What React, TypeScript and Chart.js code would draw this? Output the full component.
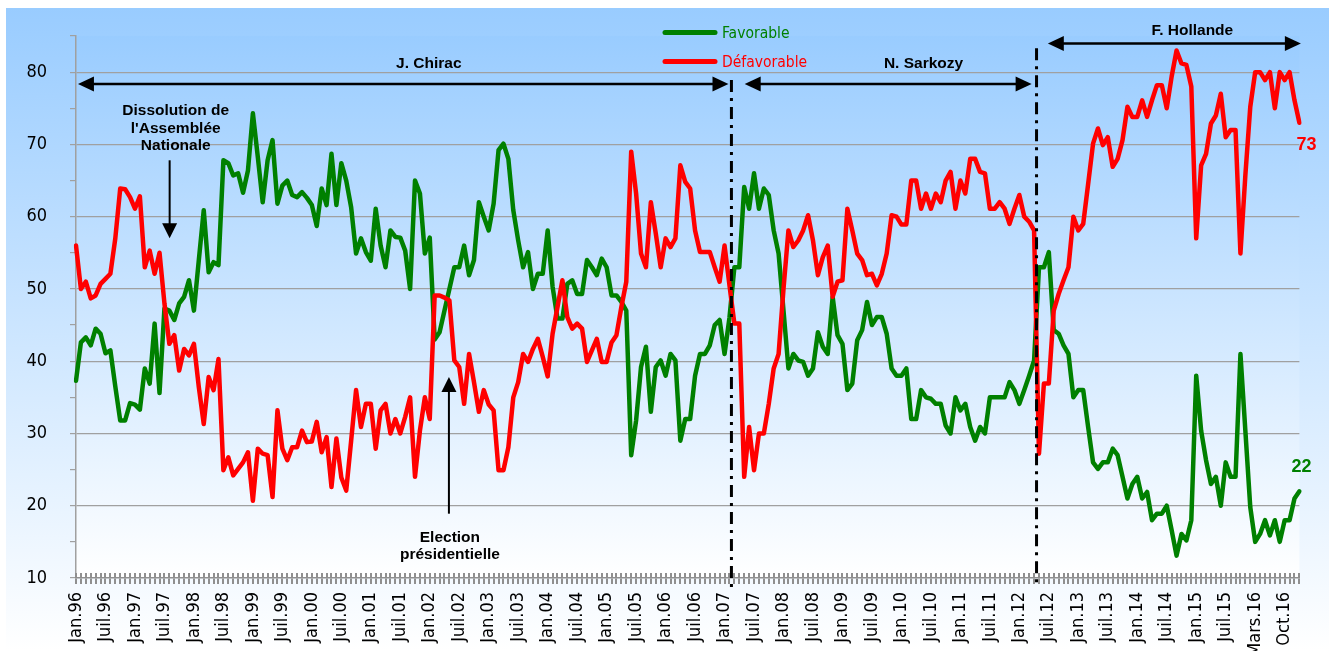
import React, { useEffect, useRef } from 'react';
import { Chart, registerables } from 'chart.js';

Chart.register(...registerables);

// ---------- DATA ----------
const TICK_LABELS: string[] = [
  'Jan.96', 'Juil.96', 'Jan.97', 'Juil.97', 'Jan.98', 'Juil.98', 'Jan.99', 'Juil.99',
  'Jan.00', 'Juil.00', 'Jan.01', 'Juil.01', 'Jan.02', 'Juil.02', 'Jan.03', 'Juil.03',
  'Jan.04', 'Juil.04', 'Jan.05', 'Juil.05', 'Jan.06', 'Juil.06', 'Jan.07', 'Juil.07',
  'Jan.08', 'Juil.08', 'Jan.09', 'Juil.09', 'Jan.10', 'Juil.10', 'Jan.11', 'Juil.11',
  'Jan.12', 'Juil.12', 'Jan.13', 'Juil.13', 'Jan.14', 'Juil.14', 'Jan.15', 'Juil.15',
  'Mars.16', 'Oct.16',
];

const FAVORABLE: number[] = [
  37.3, 42.6, 43.3, 42.2, 44.5, 43.8, 41.1, 41.5, 36.5, 31.8, 31.8, 34.2,
  34, 33.3, 39, 36.9, 45.2, 35.6, 47.3, 47, 45.7, 48, 48.9, 51.2,
  47, 54, 60.9, 52.3, 53.7, 53.3, 67.8, 67.4, 65.7, 66, 63.3, 66.4,
  74.3, 68.3, 62, 67.8, 70.6, 61.8, 64.3, 65, 63, 62.7, 63.4, 62.6,
  61.6, 58.7, 63.9, 61.6, 68.7, 61.6, 67.4, 65, 61.3, 54.9, 57, 55.1,
  53.9, 61.1, 56, 53, 58.1, 57.2, 57.1, 55.3, 50, 65, 63.2, 54.9,
  57.1, 43, 44, 47, 50, 53, 53, 56, 51.9, 54, 62, 60,
  58.1, 61.8, 69.2, 70.1, 68, 60.9, 56.7, 53, 55.1, 50, 52.1, 52.1,
  58.1, 50.3, 45.9, 45.9, 50.7, 51.2, 49.3, 49.3, 54, 53, 51.9, 54.2,
  53, 49.1, 49.1, 48.2, 47, 27, 31.8, 39.2, 42, 33, 39.2, 40.1,
  38, 41, 40.1, 29, 32, 32, 38, 41, 41, 42.2, 45, 45.7,
  41, 46, 53, 53, 64.1, 61.1, 66, 61.1, 63.9, 63, 58.1, 54.9,
  47, 39, 41, 40.1, 39.9, 38, 39, 44, 42, 41, 48.9, 43.6,
  42.4, 36, 36.9, 42.9, 44.3, 48.2, 45, 46.1, 46.1, 43.8, 39, 38,
  38, 39, 32, 32, 36, 35, 34.8, 34.1, 34.1, 31.1, 30, 35,
  33.2, 34.1, 30.9, 29, 30.9, 30, 35, 35, 35, 35, 37.1, 36,
  34.1, 36, 38, 40.1, 53, 53, 55.1, 44.3, 43.8, 42.2, 41, 35,
  36, 36, 30.9, 26, 25.1, 26, 26, 27.9, 27, 24, 21, 23,
  24, 21, 21.9, 18, 18.9, 18.9, 20, 16.6, 13.1, 16.1, 15.2, 18,
  38, 30.4, 26.3, 23, 24, 20, 26, 24, 24, 41, 30.4, 19.8,
  15, 16.1, 18, 15.9, 18, 15, 18, 18, 21, 22,
];

const DEFAVORABLE: number[] = [
  56, 50, 51, 48.7, 49.1, 50.7, 51.4, 52.1, 57, 63.9, 63.8, 62.7,
  61.1, 62.8, 53, 55.3, 52.1, 55, 48, 42.4, 43.6, 38.7, 41.7, 40.8,
  42.4, 36.4, 31.3, 37.8, 36, 40.3, 24.9, 26.7, 24.2, 25.1, 26, 27.4,
  20.7, 27.9, 27.2, 27, 21.2, 33.2, 27.9, 26.3, 28.1, 28.1, 30.4, 28.8,
  28.9, 31.6, 27.4, 29.5, 22.6, 29.3, 23.9, 22.1, 29, 36, 30.9, 34.1,
  34.1, 27.9, 33.2, 34.1, 30, 32, 30, 32.3, 35, 24, 30.4, 35,
  32, 49.1, 49.1, 48.8, 48.4, 40.1, 39.2, 34.1, 41, 37.1, 33, 36,
  34, 33.2, 24.9, 24.9, 28.1, 35, 37.1, 41, 39.9, 41.7, 43.1, 40.6,
  37.9, 43.8, 47.5, 51.2, 46.1, 44.5, 45.2, 44.5, 39.9, 41.5, 43.1, 39.9,
  39.9, 42.6, 43.6, 47.5, 51, 69, 63.2, 54.9, 53, 62, 57.7, 53,
  57, 55.8, 57, 67.1, 64.8, 63.9, 58.1, 55.1, 55.1, 55.1, 53, 51,
  56, 50.5, 45.2, 45.2, 24, 30.9, 24.9, 30, 30, 34.1, 39, 41,
  50, 58.1, 55.8, 56.7, 58.1, 60.2, 56.7, 51.9, 54.4, 56, 48.9, 51,
  51.2, 61.1, 58.1, 54.9, 54, 51.9, 52.1, 50.5, 52.1, 54.9, 60.2, 60,
  58.9, 58.9, 65, 65, 61.1, 63.2, 61.1, 63.2, 62, 65, 66.2, 61.1,
  65, 63.2, 68, 68, 66.2, 66, 61.1, 61.1, 62, 61.1, 59, 61.1,
  63, 60, 59.3, 58.1, 27.2, 36.9, 36.9, 47, 49.3, 51.2, 53, 60,
  58.1, 59, 64.5, 70.1, 72.2, 69.9, 71, 66.9, 68, 70.6, 75.2, 73.8,
  73.8, 76.1, 73.8, 76.1, 78.2, 78.2, 75, 79.4, 83, 81.2, 81, 78,
  57, 67.1, 68.7, 72.9, 74, 77, 71, 72, 72, 54.9, 65.7, 75.2,
  80, 80, 78.9, 80, 75, 80, 78.9, 80, 76.1, 73,
];

const TICK_EVERY = 6;
const CATEGORIES: string[] = FAVORABLE.map((_, i) =>
  i % TICK_EVERY === 0 && TICK_LABELS[i / TICK_EVERY] ? TICK_LABELS[i / TICK_EVERY] : ''
);

// Presidential periods (x in category index units, y in value units)
const PERIODS = [
  { name: 'J. Chirac', from: 0.4, to: 132.8, y: 78.35, labelX: 71.8, labelY: 81.1 },
  { name: 'N. Sarkozy', from: 136.1, to: 194.5, y: 78.35, labelX: 172.5, labelY: 81.1 },
  { name: 'F. Hollande', from: 197.8, to: 249.3, y: 83.95, labelX: 227.2, labelY: 85.7 },
];
const SEPARATORS = [
  { x: 133.4, top: 78.9 },
  { x: 195.5, top: 83.3 },
];
const EVENTS = [
  { lines: ['Dissolution de', "l'Assemblée", 'Nationale'], textX: 20.3, textY: [74.7, 72.2, 69.8], arrowX: 19.06, from: 67.8, to: 57.0 },
  { lines: ['Election', 'présidentielle'], textX: 76.1, textY: [15.6, 13.2], arrowX: 75.9, from: 18.9, to: 37.8 },
];

const GREEN = '#008000';
const RED = '#FF0000';
const GRID = '#a0a0a0';
const AXIS_FONT = "'DejaVu Sans Condensed', 'DejaVu Sans', sans-serif";
const BOLD_FONT = "'Liberation Sans', Arial, sans-serif";

function arrowHead(ctx: CanvasRenderingContext2D, tx: number, ty: number, dx: number, dy: number, len: number, half: number) {
  const bx = tx - dx * len;
  const by = ty - dy * len;
  const px = -dy;
  const py = dx;
  ctx.beginPath();
  ctx.moveTo(tx, ty);
  ctx.lineTo(bx + px * half, by + py * half);
  ctx.lineTo(bx - px * half, by - py * half);
  ctx.closePath();
  ctx.fill();
}

const decorPlugin = {
  id: 'decor',
  beforeDraw(chart: any) {
    const { ctx, width, height, chartArea: a } = chart;
    ctx.save();
    let g = ctx.createLinearGradient(0, 0, 0, height);
    g.addColorStop(0, '#99CCFF');
    g.addColorStop(1, '#FFFFFF');
    ctx.fillStyle = g;
    ctx.fillRect(0, 0, width, height);
    g = ctx.createLinearGradient(0, a.top, 0, a.bottom);
    g.addColorStop(0, '#99CCFF');
    g.addColorStop(1, '#FFFFFF');
    ctx.fillStyle = g;
    ctx.fillRect(a.left, a.top, a.right - a.left, a.bottom - a.top);
    ctx.restore();
  },
  afterDraw(chart: any) {
    const { ctx, chartArea: a } = chart;
    const xs = chart.scales.x;
    const ys = chart.scales.y;
    const X = (i: number) => xs.getPixelForValue(i);
    const Y = (v: number) => ys.getPixelForValue(v);
    ctx.save();

    // upper half of the category hatch
    ctx.strokeStyle = '#8f8f8f';
    ctx.lineWidth = 2;
    ctx.beginPath();
    for (let i = 0; i < CATEGORIES.length; i++) {
      const x = Math.round(X(i));
      ctx.moveTo(x, a.bottom - 5);
      ctx.lineTo(x, a.bottom);
    }
    ctx.stroke();

    // separators (dash-dot)
    ctx.strokeStyle = '#000';
    ctx.lineWidth = 3;
    ctx.setLineDash([12, 6, 3, 6]);
    for (const s of SEPARATORS) {
      const x = X(s.x);
      ctx.beginPath();
      ctx.moveTo(x, Y(s.top));
      ctx.lineTo(x, a.bottom + 9);
      ctx.stroke();
    }
    ctx.setLineDash([]);

    // period arrows
    ctx.fillStyle = '#000';
    ctx.lineWidth = 2.5;
    for (const p of PERIODS) {
      const x1 = X(p.from);
      const x2 = X(p.to);
      const y = Y(p.y);
      ctx.beginPath();
      ctx.moveTo(x1 + 10, y);
      ctx.lineTo(x2 - 10, y);
      ctx.stroke();
      arrowHead(ctx, x1, y, -1, 0, 16, 7.5);
      arrowHead(ctx, x2, y, 1, 0, 16, 7.5);
      ctx.font = `bold 15.5px ${BOLD_FONT}`;
      ctx.textAlign = 'center';
      ctx.textBaseline = 'middle';
      ctx.fillText(p.name, X(p.labelX), Y(p.labelY));
    }

    // event arrows
    ctx.lineWidth = 2;
    for (const e of EVENTS) {
      const x = X(e.arrowX);
      const y1 = Y(e.from);
      const y2 = Y(e.to);
      const dir = y2 > y1 ? 1 : -1;
      ctx.beginPath();
      ctx.moveTo(x, y1);
      ctx.lineTo(x, y2 - dir * 10);
      ctx.stroke();
      arrowHead(ctx, x, y2, 0, dir, 15, 7.5);
      ctx.font = `bold 15.5px ${BOLD_FONT}`;
      ctx.textAlign = 'center';
      ctx.textBaseline = 'middle';
      e.lines.forEach((t, k) => ctx.fillText(t, X(e.textX), Y(e.textY[k])));
    }

    // legend
    const legend = [
      { text: 'Favorable', color: GREEN, y: 24.5 },
      { text: 'Défavorable', color: RED, y: 53.5 },
    ];
    ctx.lineCap = 'round';
    ctx.lineWidth = 5;
    ctx.font = `15.5px ${AXIS_FONT}`;
    ctx.textAlign = 'left';
    ctx.textBaseline = 'middle';
    for (const l of legend) {
      ctx.strokeStyle = l.color;
      ctx.beginPath();
      ctx.moveTo(659, l.y);
      ctx.lineTo(709, l.y);
      ctx.stroke();
      ctx.fillStyle = l.color;
      ctx.fillText(l.text, 716, l.y + 1);
    }

    // end labels
    const last = CATEGORIES.length - 1;
    ctx.font = `bold 18px ${BOLD_FONT}`;
    ctx.textAlign = 'center';
    ctx.fillStyle = RED;
    ctx.fillText(String(Math.round(DEFAVORABLE[last])), X(last) + 7, Y(DEFAVORABLE[last]) + 22);
    ctx.fillStyle = GREEN;
    ctx.fillText(String(Math.round(FAVORABLE[last])), X(last) + 2, Y(FAVORABLE[last]) - 24);

    ctx.restore();
  },
};

export default function App() {
  const ref = useRef<HTMLCanvasElement | null>(null);

  useEffect(() => {
    if (!ref.current) return;
    const chart = new Chart(ref.current, {
      type: 'line',
      data: {
        labels: CATEGORIES,
        datasets: [
          {
            label: 'Favorable',
            data: FAVORABLE,
            borderColor: GREEN,
            backgroundColor: GREEN,
            borderWidth: 4.5,
            pointRadius: 0,
            tension: 0,
            fill: false,
            borderJoinStyle: 'round',
            borderCapStyle: 'round',
            order: 1,
          },
          {
            label: 'Défavorable',
            data: DEFAVORABLE,
            borderColor: RED,
            backgroundColor: RED,
            borderWidth: 4.5,
            pointRadius: 0,
            tension: 0,
            fill: false,
            borderJoinStyle: 'round',
            borderCapStyle: 'round',
            order: 0,
          },
        ],
      },
      options: {
        responsive: false,
        animation: false,
        devicePixelRatio: 1,
        events: [],
        layout: { padding: { left: 0, top: 28, right: 28, bottom: 0 } },
        plugins: {
          legend: { display: false },
          tooltip: { enabled: false },
          title: { display: false },
        },
        scales: {
          x: {
            type: 'category',
            offset: false,
            grid: {
              display: true,
              drawOnChartArea: false,
              drawTicks: true,
              tickLength: 6,
              color: '#8f8f8f',
              lineWidth: 2,
            },
            border: { display: true, color: '#8f8f8f', width: 1.5 },
            ticks: {
              autoSkip: false,
              maxRotation: 90,
              minRotation: 90,
              padding: 8,
              color: '#000',
              font: { family: AXIS_FONT, size: 18 },
            },
            afterFit: (s: any) => {
              s.height = 73;
            },
          },
          y: {
            min: 10,
            max: 85,
            ticks: {
              stepSize: 5,
              autoSkip: false,
              padding: 23,
              color: '#000',
              font: { family: AXIS_FONT, size: 18 },
              callback: (v: any) => (Number(v) % 10 === 0 ? String(v) : ''),
            },
            grid: {
              color: (c: any) => {
                const v = c.tick ? c.tick.value : NaN;
                return v % 10 === 0 && v > 10 && v < 85 ? GRID : 'rgba(0,0,0,0)';
              },
              tickColor: GRID,
              tickLength: 6,
              lineWidth: 1.2,
            },
            border: { display: true, color: GRID, width: 1.5 },
            afterFit: (s: any) => {
              s.width = 70;
              s.paddingTop = 0;
              s.paddingBottom = 0;
            },
          },
        },
      },
      plugins: [decorPlugin],
    } as any);
    return () => chart.destroy();
  }, []);

  return (
    <div style={{ position: 'absolute', left: 6, top: 8, width: 1323, height: 643 }}>
      <canvas ref={ref} width={1323} height={643} style={{ width: 1323, height: 643, display: 'block' }} />
    </div>
  );
}
